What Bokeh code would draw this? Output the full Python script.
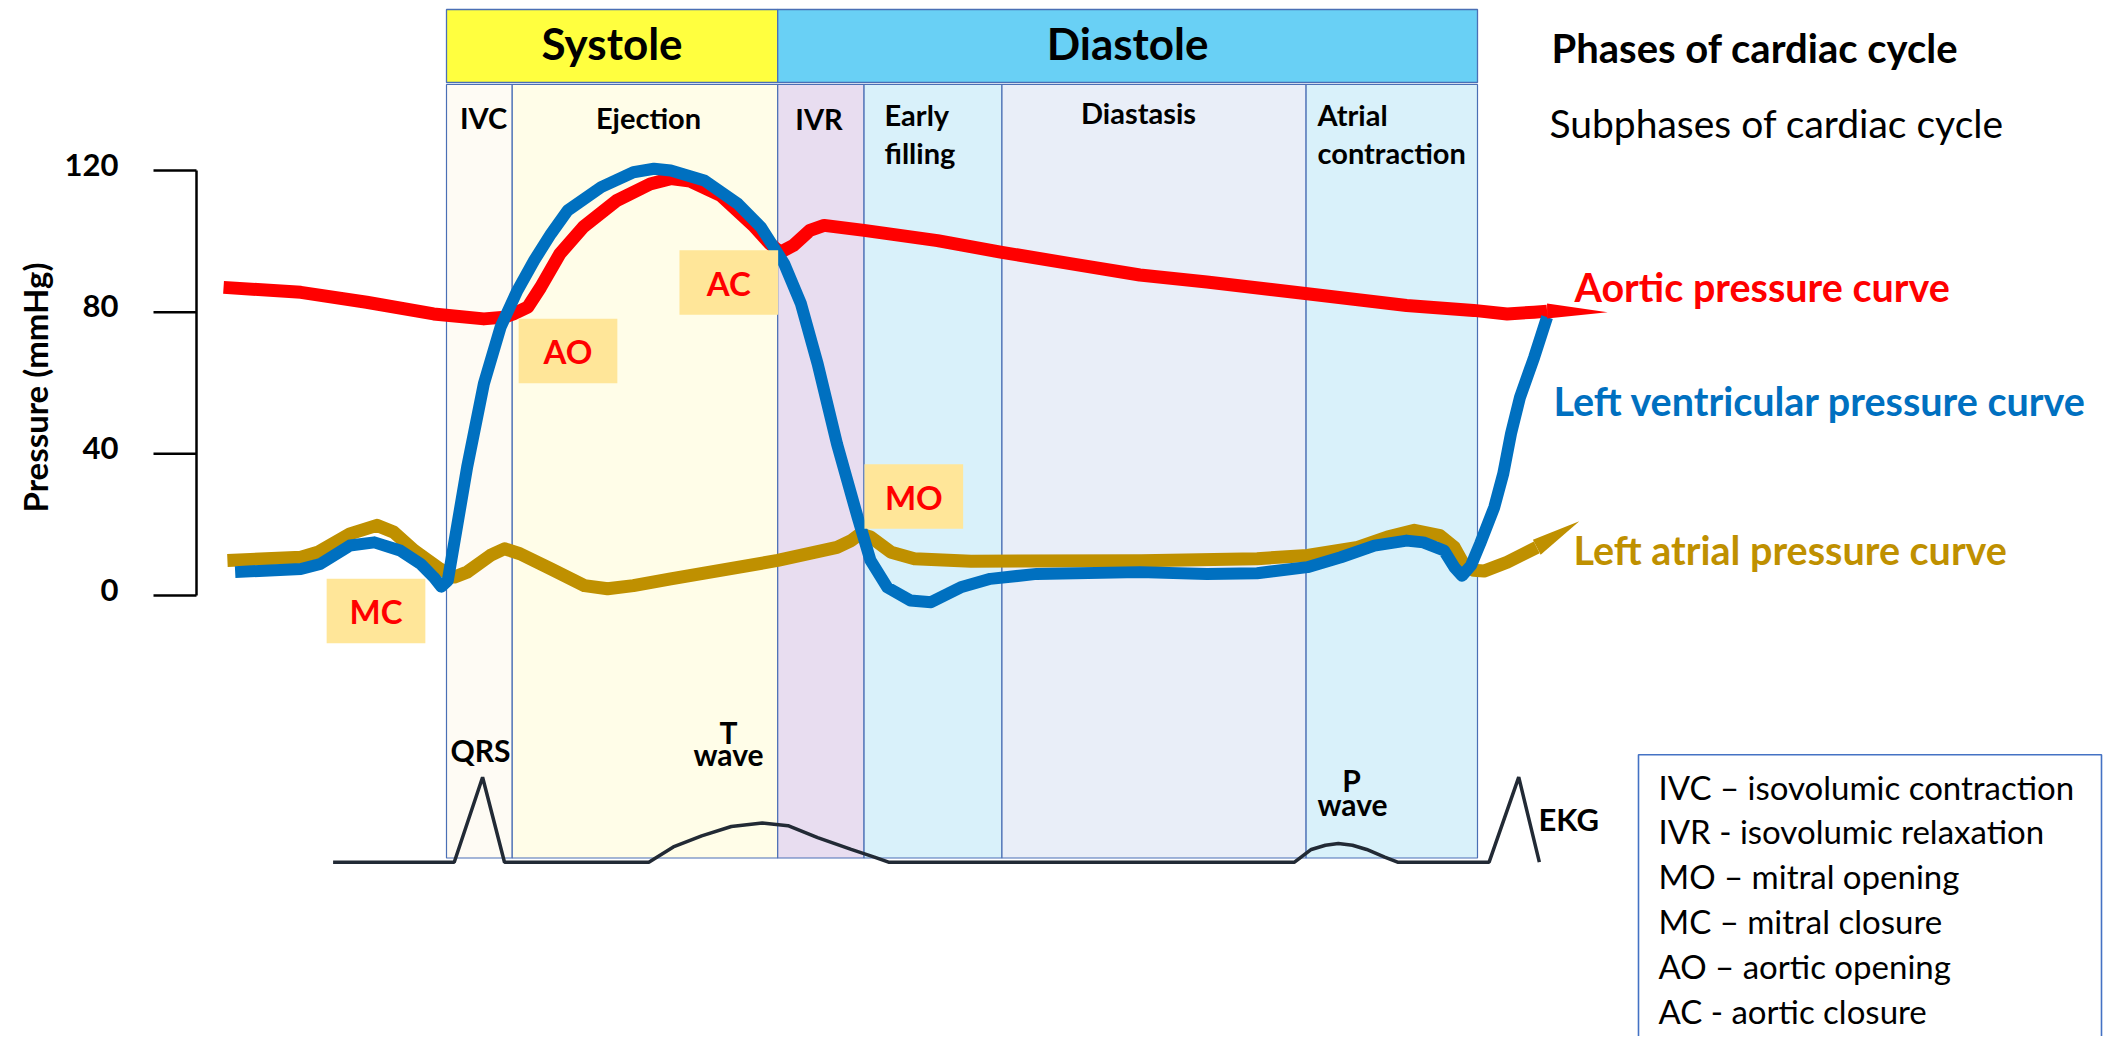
import math
from bokeh.plotting import figure
from bokeh.models import Range1d, Label
from bokeh.embed import file_html
from bokeh.resources import INLINE

# ------------------------------------------------------------------
# DATA  (time in ms from onset of isovolumic contraction, pressure in mmHg)
# ------------------------------------------------------------------
phase_names = ["Systole", "Diastole"]
phase_start_ms = [0, 257]
phase_end_ms = [257, 800]

subphase_names = ["IVC", "Ejection", "IVR", "Early filling", "Diastasis", "Atrial contraction"]
subphase_start_ms = [0, 51, 257, 324, 431, 667]
subphase_end_ms = [51, 257, 324, 431, 667, 800]

pressure_ticks = [0, 40, 80, 120]
pressure_tick_labels = ["0", "40", "80", "120"]

aortic_t = [-173, -113, -62, -10, 29, 45, 52, 63, 73, 88, 106, 132, 158, 174, 189, 213,
            238, 251, 259, 269, 282, 293, 324, 381, 431, 484, 538, 590, 668, 745, 797, 823, 844, 854]
aortic_p = [87.0, 85.6, 82.8, 79.5, 78.1, 78.6, 79.5, 81.4, 87.0, 96.5, 104.0, 111.5, 116.2, 117.7, 117.0, 112.9,
            104.5, 99.3, 96.9, 98.8, 103.1, 104.5, 103.1, 100.2, 96.9, 93.7, 90.5, 88.5, 85.2, 81.9, 80.5, 79.5, 80.0, 80.3]
aortic_tail_tip = (901, 80.0)

lv_t = [-164, -113, -98, -75, -56, -36, -20, -10, -4, 1, 16, 29, 42, 55, 68, 81, 94, 120, 145, 161, 174,
        200, 226, 244, 254, 262, 275, 288, 303, 319, 329, 342, 360, 376, 399, 422, 458, 538, 590, 629,
        668, 694, 720, 745, 758, 774, 782, 788, 795, 802, 813, 820, 826, 833, 844, 854]
lv_p = [6.6, 7.5, 8.9, 14.1, 15.0, 12.7, 8.9, 5.2, 2.5, 4.2, 36.2, 59.8, 75.8, 86.1, 94.6, 102.1, 108.7, 115.3, 119.5, 120.5, 120.0,
        117.2, 110.6, 104.0, 98.3, 93.7, 82.4, 65.4, 42.8, 22.1, 9.9, 2.3, -1.4, -1.9, 2.3, 4.7, 6.1, 6.6, 6.1, 6.3,
        8.0, 10.8, 14.1, 15.5, 15.0, 12.7, 8.0, 5.6, 8.5, 14.6, 24.9, 34.4, 45.7, 56.0, 67.3, 78.6]

la_t = [-170, -113, -100, -75, -54, -41, -25, -5, 6, 16, 34, 45, 57, 81, 107, 125, 145, 174, 257, 303,
        314, 321, 329, 345, 363, 407, 539, 629, 668, 707, 730, 751, 771, 782, 789, 797, 805, 823, 846]
la_p = [9.9, 10.8, 12.2, 17.4, 19.8, 17.9, 12.7, 7.5, 5.2, 6.6, 11.3, 13.2, 11.8, 7.5, 2.8, 1.9, 2.8, 4.7, 9.9, 13.6,
        15.5, 17.4, 16.5, 12.2, 10.4, 9.7, 9.8, 10.4, 11.3, 13.6, 16.5, 18.4, 16.9, 13.6, 9.0, 7.1, 6.9, 9.4, 13.6]
la_tail_tip = (879, 21.0)

# EKG (time in ms, amplitude in mV)
ekg_t = [-88, 6, 28, 45, 157, 176, 198, 221, 245, 265, 288, 314, 332, 343,
         658, 671, 682, 692, 703, 714, 728, 738, 809, 832, 848]
ekg_mv = [0, 0, 1.0, 0, 0, 0.18, 0.31, 0.42, 0.46, 0.43, 0.29, 0.15, 0.06, 0,
          0, 0.15, 0.20, 0.22, 0.20, 0.15, 0.06, 0, 0, 1.0, 0]

events = ["MC", "AO", "AC", "MO"]
legend_items = ["IVC \u2013 isovolumic contraction", "IVR - isovolumic relaxation",
                "MO \u2013 mitral opening", "MC \u2013 mitral closure",
                "AO \u2013 aortic opening", "AC - aortic closure"]

# ------------------------------------------------------------------
# LAYOUT / SCALES
# ------------------------------------------------------------------
W, H = 2103, 1036
OFF = 0
PX_PER_MS = 1031 / 800.0
X_T0 = 446.0
PX_PER_MMHG = 425 / 120.0
Y_P0 = 595.0
EKG_Y0 = 861.7
PX_PER_MV = 85.0


def tx(px):
    return (px - X_T0) / PX_PER_MS


def py(px):
    return (Y_P0 - px) / PX_PER_MMHG


FONT = "Lato"
RED = "#ff0000"
BLUE = "#0070c0"
GOLD = "#bf9000"
BORDER = "#4a6fb5"

p = figure(width=W, height=H,
           x_range=Range1d(tx(OFF), tx(OFF + W)),
           y_range=Range1d(py(OFF + H), py(OFF)),
           x_axis_type=None, y_axis_type=None,
           output_backend="svg", toolbar_location=None, min_border=0,
           outline_line_color=None, background_fill_color="white",
           border_fill_color="white")
p.extra_y_ranges = {"ekg": Range1d((EKG_Y0 - (OFF + H)) / PX_PER_MV, (EKG_Y0 - OFF) / PX_PER_MV)}


def label(x, y, text, size, bold=True, color="black", align="center", angle=0.0):
    lab = Label(x=x, y=y, text=text, text_font=FONT, text_font_size=f"{size}px",
                text_font_style="bold" if bold else "normal", text_color=color,
                text_align=align, text_baseline="middle", angle=angle)
    p.add_layout(lab)


# phase header boxes
p.quad(left=phase_start_ms, right=phase_end_ms, bottom=py(82), top=py(9),
       fill_color=["#ffff3f", "#69d0f5"], line_color=BORDER, line_width=1.3)
for name, s, e in zip(phase_names, phase_start_ms, phase_end_ms):
    label((s + e) / 2.0, py(42), name, 44)

# subphase boxes
p.quad(left=subphase_start_ms, right=subphase_end_ms, bottom=py(857.5), top=py(84),
       fill_color=["#fefbf4", "#fffde8", "#e8ddf0", "#d9f1fa", "#e9eef8", "#d9f1fa"],
       line_color=BORDER, line_width=1.2)

# subphase labels
SUB = 29
label(tx(483), py(117), "IVC", SUB)
label(tx(648), py(117), "Ejection", SUB)
label(tx(818.5), py(118), "IVR", SUB)
label(tx(884), py(114), "Early", SUB, align="left")
label(tx(884), py(152), "filling", SUB, align="left")
label(tx(1138), py(112), "Diastasis", SUB)
label(tx(1317), py(114), "Atrial", SUB, align="left")
label(tx(1317), py(152), "contraction", SUB, align="left")

# pressure axis
ax_x = tx(196)
tick_x0 = tx(153)
p.segment(x0=[ax_x], y0=[pressure_ticks[0]], x1=[ax_x], y1=[pressure_ticks[-1]],
          line_color="black", line_width=2.5)
p.segment(x0=[tick_x0] * len(pressure_ticks), y0=pressure_ticks,
          x1=[ax_x] * len(pressure_ticks), y1=pressure_ticks,
          line_color="black", line_width=2.5)
for v, t in zip(pressure_ticks, pressure_tick_labels):
    label(tx(118), v + 6 / PX_PER_MMHG, t, 31, align="right")
label(tx(34), py(387), "Pressure (mmHg)", 33, angle=math.pi / 2)

# curves
p.line(la_t, la_p, line_color=GOLD, line_width=13, line_join="round")
p.line(aortic_t, aortic_p, line_color=RED, line_width=13, line_join="round")
p.line(lv_t, lv_p, line_color=BLUE, line_width=12, line_join="round")

# tapered tails (from the last point of each curve to its tip)
hw = 7.5 / PX_PER_MMHG
p.patch([aortic_t[-1], aortic_tail_tip[0], aortic_t[-1]],
        [aortic_p[-1] + hw, aortic_tail_tip[1], aortic_p[-1] - hw], color=RED, line_width=0)
p.patch([la_t[-1] - 3, la_tail_tip[0], la_t[-1] + 3],
        [la_p[-1] + hw, la_tail_tip[1], la_p[-1] - hw], color=GOLD, line_width=0)

# event boxes
BOX_W = 98.7 / PX_PER_MS
BOX_H = 64.4 / PX_PER_MMHG
ev_cx = [tx(375.5), tx(567.5), tx(728.3), tx(913.3)]
ev_cy = [py(610.5), py(350.5), py(282), py(496)]
p.quad(left=[c - BOX_W / 2 for c in ev_cx], right=[c + BOX_W / 2 for c in ev_cx],
       bottom=[c - BOX_H / 2 for c in ev_cy], top=[c + BOX_H / 2 for c in ev_cy],
       fill_color="#ffe699", line_color=None)
for name, cx, cy in zip(events, ev_cx, ev_cy):
    label(cx, cy, name, 33, color=RED)

# curve names
label(tx(1574), py(286), "Aortic pressure curve", 39.5, color=RED, align="left")
label(tx(1553), py(400), "Left ventricular pressure curve", 39.5, color=BLUE, align="left")
label(tx(1573), py(549), "Left atrial pressure curve", 39.5, color=GOLD, align="left")

# titles
label(tx(1551), py(47), "Phases of cardiac cycle", 40, align="left")
label(tx(1549), py(122), "Subphases of cardiac cycle", 39, bold=False, align="left")

# EKG
p.line(ekg_t, ekg_mv, y_range_name="ekg", line_color="#222a35", line_width=3.5)
label(tx(480), py(749), "QRS", 30)
label(tx(728), py(731), "T", 30)
label(tx(728), py(753), "wave", 30)
label(tx(1351), py(779), "P", 30)
label(tx(1352), py(803), "wave", 30)
label(tx(1538), py(818), "EKG", 31, align="left")

# abbreviation box
p.quad(left=[tx(1638)], right=[tx(2101)], top=[py(754.3)], bottom=[py(1080)],
       fill_color="white", line_color="#4472c4", line_width=1.6)
for i, item in enumerate(legend_items):
    label(tx(1658), py(786 + i * 44.8), item, 33, bold=False, align="left")

open("out.html", "w").write(file_html(p, INLINE, "Cardiac cycle"))
